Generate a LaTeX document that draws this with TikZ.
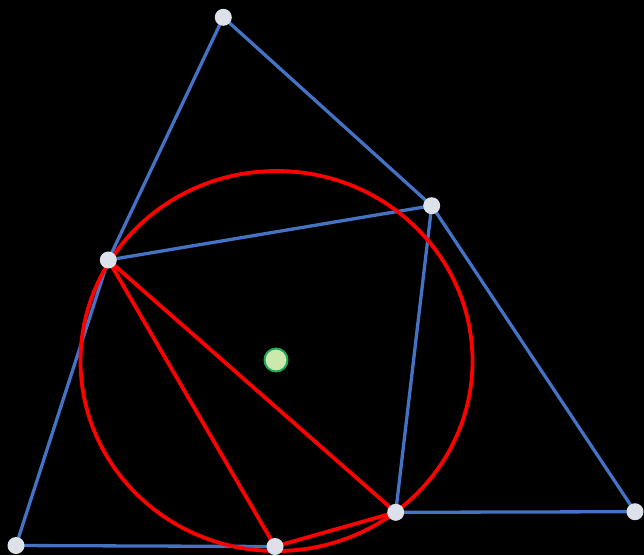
\documentclass[tikz,border=0pt]{standalone}
\begin{document}
\begin{tikzpicture}[x=1pt,y=-1pt,
  blueline/.style={draw={rgb,255:red,68;green,114;blue,196}, line width=3.3pt, line join=round},
  redline/.style={draw={rgb,255:red,255;green,0;blue,0}, line width=3.8pt, line join=round},
  pt/.style={circle, fill={rgb,255:red,220;green,225;blue,234}, minimum size=17pt, inner sep=0pt},
  ctr/.style={circle, fill={rgb,255:red,204;green,232;blue,173}, draw={rgb,255:red,30;green,170;blue,85}, line width=2pt, minimum size=23pt, inner sep=0pt}]
\fill[black] (0,0) rectangle (644,555);
\useasboundingbox (0,0) rectangle (644,555);
\coordinate (A) at (223.3,17.3);
\coordinate (B) at (431.7,205.7);
\coordinate (C) at (108.3,260);
\coordinate (D) at (16,545.5);
\coordinate (E) at (275,546.5);
\coordinate (F) at (395.7,512.3);
\coordinate (G) at (635,511.7);
\coordinate (O) at (276.5,361);
% blue
\draw[blueline] (A) -- (C) -- (D) -- (E);
\draw[blueline] (A) -- (B) -- (G) -- (F);
\draw[blueline] (C) -- (B) -- (F);
% red
\draw[redline] (O) ellipse [x radius=196, y radius=190];
\draw[redline] (C) -- (E) -- (F) -- cycle;
% points
\node[pt] (nA) at (A) {};
\node[pt] (nB) at (B) {};
\node[pt] (nC) at (C) {};
\node[pt] (nD) at (D) {};
\node[pt] (nE) at (E) {};
\node[pt] (nF) at (F) {};
\node[pt] (nG) at (G) {};
\node[ctr] (nO) at (276,360) {};
\end{tikzpicture}
\end{document}
